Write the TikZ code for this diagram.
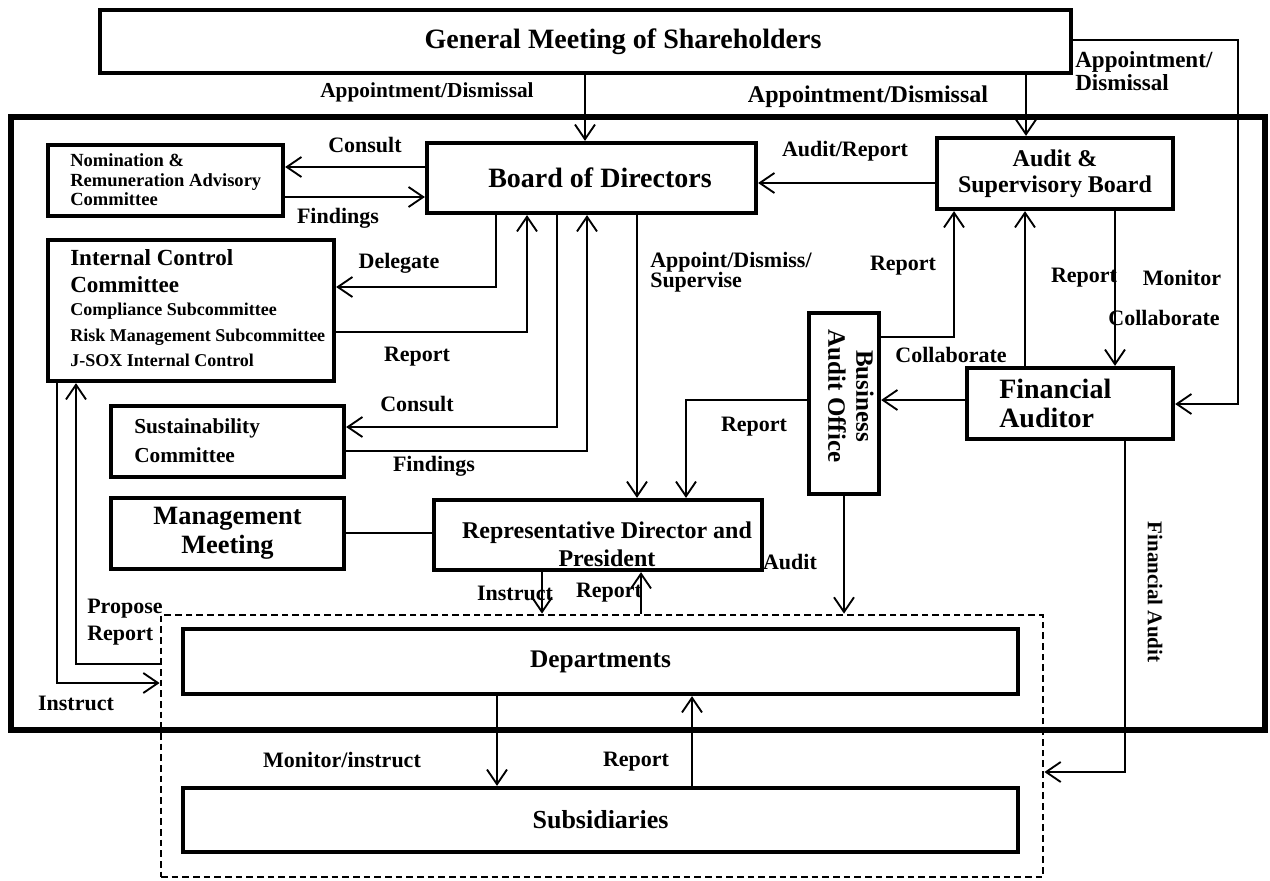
\documentclass[tikz,border=0pt]{standalone}
\usepackage{fontspec}
\setmainfont{Liberation Serif}
\usetikzlibrary{arrows.meta}
\newcommand\mkbox[6]{\node[#6, minimum width={(#4-#2)*0.75pt}, minimum height={(#5-#3)*0.75pt}] (#1) at ({(#2+#4)/2},{(#3+#5)/2})}
\newcommand\fsz[2]{\fontsize{#1pt}{#2pt}\selectfont\bfseries}
\begin{document}
\begin{tikzpicture}[x=0.75pt,y=-0.75pt,
  box/.style={draw, line width=3.2pt, inner sep=0pt},
  conn/.style={line width=1.4pt},
  arr/.style={conn, -{Straight Barb[length=11pt,width=15pt]}},
  lbl/.style={inner sep=0pt, font=\fsz{16.5}{19}},
]
\useasboundingbox (0,0) rectangle (1270,881);

% boxes
\mkbox{outer}{11}{117}{1265}{730}{draw, line width=4.3pt, inner sep=0pt}{};
\mkbox{gm}{100}{10}{1071}{73}{box}{};
\node[inner sep=0pt, font=\fsz{21}{24}] (gmt) at (623,42) {General Meeting of Shareholders};

\mkbox{nom}{48}{145}{283}{216}{box}{};
\node[anchor=west, align=left, inner sep=0pt, font=\fsz{13.9}{14.6}] (nomt) at (70,180) {Nomination \&\\Remuneration Advisory\\Committee};

\mkbox{bod}{427}{143}{756}{213}{box}{};
\node[inner sep=0pt, font=\fsz{21}{24}] (bodt) at (600,178) {Board of Directors};

\mkbox{asb}{937}{138}{1173}{209}{box, align=center, font=\fsz{18}{19.5}}{Audit \&\\Supervisory Board};

\mkbox{icc}{48}{240}{334}{381}{box}{};
\node[anchor=west, align=left, inner sep=0pt, font=\fsz{17.3}{20.25}] (icct) at (70,271) {Internal Control\\Committee};
\node[anchor=west, align=left, inner sep=0pt, font=\fsz{13.5}{19}] (iccs) at (70,335) {Compliance Subcommittee\\Risk Management Subcommittee\\J-SOX Internal Control};

\mkbox{sus}{111}{406}{344}{477}{box}{};
\node[anchor=west, align=left, inner sep=0pt, font=\fsz{16}{21.75}] (sust) at (134,441) {Sustainability\\Committee};

\mkbox{mgmt}{111}{498}{344}{569}{box, align=center, font=\fsz{19.8}{21.75}}{Management\\Meeting};

\mkbox{rep}{434}{500}{762}{570}{box}{};
\node[align=center, inner sep=0pt, font=\fsz{18}{21}] (rept) at (607,544) {Representative Director and\\President};

\mkbox{bao}{809}{313}{879}{494}{box}{};
\node[rotate=-90, align=center, inner sep=0pt, font=\fsz{18.75}{21}] (baot) at (851,396) {Business\\Audit Office};

\mkbox{fa}{967}{368}{1173}{439}{box}{};
\node[anchor=west, align=left, inner sep=0pt, font=\fsz{21}{21.75}] (fat) at (999,403) {Financial\\Auditor};

\mkbox{dash}{161}{615}{1043}{877}{draw, line width=2.1pt, dash pattern=on 5pt off 3pt, inner sep=0pt}{};
\mkbox{dept}{183}{629}{1018}{694}{box, font=\fsz{19}{22}}{Departments};
\mkbox{sub}{183}{788}{1018}{852}{box, font=\fsz{19.5}{22}}{Subsidiaries};

% connectors
\draw[arr] (gm.south -| 585,0) -- (bod.north -| 585,0);
\node[lbl, font=\fsz{16}{18}] (l1) at (427,92) {Appointment/Dismissal};
\draw[arr] (gm.south -| 1026,0) -- (asb.north -| 1026,0);
\node[lbl, font=\fsz{18}{20}] (l2) at (868,97) {Appointment/Dismissal};
\draw[arr] (gm.east |- 0,40) -- (1238,40) -- (1238,404) -- (fa.east |- 0,404);
\node[lbl, anchor=west, align=left, font=\fsz{17.3}{17.25}] (l3) at (1075,71) {Appointment/\\Dismissal};

\draw[arr] (bod.west |- 0,167) -- (nom.east |- 0,167);
\node[lbl] (l4) at (365,145) {Consult};
\draw[arr] (nom.east |- 0,197) -- (bod.west |- 0,197);
\node[lbl] (l5) at (338,218) {Findings};
\draw[arr] (asb.west |- 0,183) -- (bod.east |- 0,183);
\node[lbl] (l6) at (845,151) {Audit/Report};

\draw[arr] (bod.south -| 496,0) -- (496,287) -- (icc.east |- 0,287);
\node[lbl] (l7) at (399,263) {Delegate};
\draw[arr] (icc.east |- 0,332) -- (527,332) -- (bod.south -| 527,0);
\node[lbl] (l8) at (417,357) {Report};
\draw[arr] (bod.south -| 557,0) -- (557,427) -- (sus.east |- 0,427);
\node[lbl] (l9) at (417,404) {Consult};
\draw[arr] (sus.east |- 0,451) -- (587,451) -- (bod.south -| 587,0);
\node[lbl] (l10) at (434,466) {Findings};

\draw[arr] (bod.south -| 637,0) -- (rep.north -| 637,0);
\node[lbl, anchor=west, align=left, font=\fsz{16.5}{15}] (l11) at (650,272) {Appoint/Dismiss/\\Supervise};
\draw[conn] (mgmt.east |- 0,533) -- (rep.west |- 0,533);

\draw[arr] (bao.west |- 0,400) -- (686,400) -- (rep.north -| 686,0);
\node[lbl] (l12) at (754,427) {Report};
\draw[arr] (bao.east |- 0,337) -- (954,337) -- (asb.south -| 954,0);
\node[lbl] (l13) at (903,266) {Report};
\draw[arr] (fa.north -| 1025,0) -- (asb.south -| 1025,0);
\node[lbl] (l14) at (951,355) {Collaborate};
\draw[arr] (asb.south -| 1115,0) -- (fa.north -| 1115,0);
\node[lbl] (l15) at (1084,278) {Report};
\node[lbl] (l16) at (1182,278) {Monitor};
\node[lbl] (l17) at (1164,318) {Collaborate};
\draw[arr] (fa.west |- 0,400) -- (bao.east |- 0,400);

\draw[arr] (bao.south -| 844,0) -- (dash.north -| 844,0);
\node[lbl] (l18) at (790,562) {Audit};
\draw[arr] (fa.south -| 1125,0) -- (1125,772) -- (dash.east |- 0,772);
\node[lbl, rotate=-90, font=\fsz{15.75}{18}] (l19) at (1155,592) {Financial Audit};

\draw[arr] (rep.south -| 542,0) -- (dash.north -| 542,0);
\node[lbl] (l20) at (515,593) {Instruct};
\draw[arr] (dash.north -| 641,0) -- (rep.south -| 641,0);
\node[lbl] (l21) at (609,593) {Report};

\draw[arr] (dept.south -| 497,0) -- (sub.north -| 497,0);
\node[lbl] (l22) at (342,760) {Monitor/instruct};
\draw[arr] (sub.north -| 692,0) -- (dept.south -| 692,0);
\node[lbl] (l23) at (636,762) {Report};

\draw[arr] (icc.south -| 57,0) -- (57,683) -- (dash.west |- 0,683);
\node[lbl] (l24) at (76,703) {Instruct};
\draw[arr] (dash.west |- 0,664) -- (76,664) -- (icc.south -| 76,0);
\node[lbl, anchor=west, align=left, font=\fsz{16.5}{20}] (l25) at (87,622) {Propose\\Report};
\end{tikzpicture}
\end{document}
